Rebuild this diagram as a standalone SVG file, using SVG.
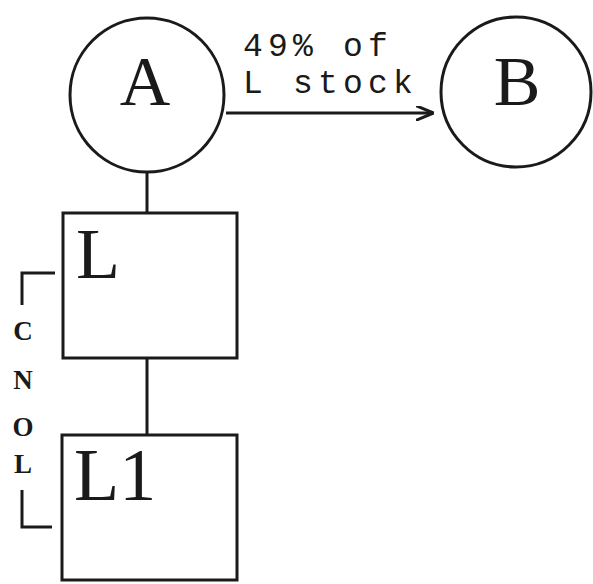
<svg xmlns="http://www.w3.org/2000/svg" width="593" height="584" viewBox="0 0 593 584">
<style>
.s{fill:none;stroke:#1a1a1a;stroke-width:3}
.big{font-family:"Liberation Serif",serif;fill:#1a1a1a}
.lbl{font-family:"Liberation Mono",monospace;font-size:33px;letter-spacing:5.2px;fill:#1a1a1a}
.v{font-family:"Liberation Serif",serif;font-size:27px;font-weight:bold;fill:#1a1a1a;text-anchor:middle}
</style>
<defs>
<marker id="ah" viewBox="0 0 12 10" refX="11" refY="5" markerWidth="6" markerHeight="5" markerUnits="strokeWidth" orient="auto">
<path d="M0,0 L12,5 L0,10" fill="none" stroke="#1a1a1a" stroke-width="2"/>
</marker>
</defs>
<rect width="593" height="584" fill="#fff"/>
<g id="connectors">
<line class="s" x1="147" y1="172" x2="147" y2="213"/>
<line class="s" x1="147" y1="358" x2="147" y2="435"/>
<line class="s" x1="226" y1="113" x2="432" y2="113" stroke-width="3.5" marker-end="url(#ah)"/>
<text class="lbl" x="243" y="56">49% of</text>
<text class="lbl" x="243" y="93">L stock</text>
</g>
<g id="A">
<circle class="s" cx="147" cy="95" r="77"/>
<text class="big" x="145" y="105" font-size="70" text-anchor="middle">A</text>
</g>
<g id="B">
<circle class="s" cx="516" cy="92" r="75"/>
<text class="big" x="517" y="105" font-size="70" text-anchor="middle">B</text>
</g>
<g id="L">
<rect class="s" x="63" y="213" width="174" height="145"/>
<text class="big" x="76" y="278" font-size="72">L</text>
</g>
<g id="L1">
<rect class="s" x="62" y="435" width="175" height="145"/>
<text class="big" x="74" y="500" font-size="74">L1</text>
</g>
<g id="control">
<path class="s" d="M22,305 V273 H55" stroke-width="3.5"/>
<path class="s" d="M22,490 V527 H52" stroke-width="3.5"/>
<text class="v" x="23" y="340">C</text>
<text class="v" x="23" y="389">N</text>
<text class="v" x="23" y="436">O</text>
<text class="v" x="23" y="473">L</text>
</g>
</svg>
